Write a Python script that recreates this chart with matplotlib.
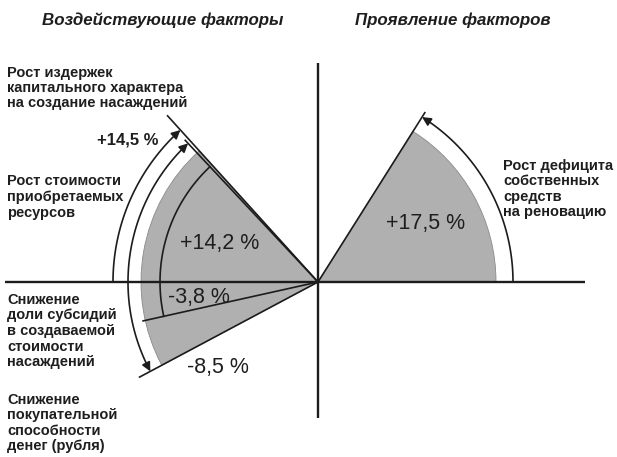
import numpy as np
import matplotlib
matplotlib.use('Agg')
import matplotlib.pyplot as plt
from matplotlib.patches import Wedge, FancyArrowPatch
from matplotlib.path import Path

plt.rcParams['font.family'] = ['Liberation Sans', 'DejaVu Sans']

# ---------------- data ----------------
titles = ['Воздействующие факторы', 'Проявление факторов']
factor_labels = [
    'Рост издержек\nкапитального характера\nна создание насаждений',
    'Рост стоимости\nприобретаемых\nресурсов',
    'Снижение\nдоли субсидий\nв создаваемой\nстоимости\nнасаждений',
    'Снижение\nпокупательной\nспособности\nденег (рубля)',
]
factor_values = [14.5, 14.2, -3.8, -8.5]
factor_texts = ['+14,5 %', '+14,2 %', '-3,8 %', '-8,5 %']
result_label = 'Рост дефицита\nсобственных\nсредств\nна реновацию'
result_value = 17.5
result_text = '+17,5 %'

DEG_PER_PCT = 3.3          # angular scale of the diagram
INK = '#1c1c1c'
GRAY = '#b0b0b0'


def left_ang(v):
    return 180.0 - v * DEG_PER_PCT


def right_ang(v):
    return v * DEG_PER_PCT


def P(px, py):
    """pixel position -> data coords (origin at axes crossing)"""
    return px - 318, 282 - py


fig = plt.figure(figsize=(6.17, 4.57), dpi=100)
ax = fig.add_axes([0, 0, 1, 1])
ax.set_xlim(-318, 299)
ax.set_ylim(-175, 282)
ax.set_aspect('equal')
ax.axis('off')

# gray sectors
a_top = left_ang(factor_values[0])
a_bot = left_ang(factor_values[3])
ax.add_patch(Wedge((0, 0), 177, a_top, a_bot, facecolor=GRAY,
                   edgecolor='#8a8a8a', lw=0.6, zorder=1))
ax.add_patch(Wedge((0, 0), 178, 0, right_ang(result_value), facecolor=GRAY,
                   edgecolor='#8a8a8a', lw=0.6, zorder=1))

# axes
ax.plot([-313, 267], [0, 0], color=INK, lw=1.7, zorder=3, solid_capstyle='butt')
ax.plot([0, 0], [-136, 219], color=INK, lw=1.7, zorder=3, solid_capstyle='butt')


def ray(angle, r):
    t = np.deg2rad(angle)
    ax.plot([0, r * np.cos(t)], [0, r * np.sin(t)], color=INK, lw=1.2,
            zorder=3, solid_capstyle='butt')


def arc_pts(r, a1, a2, n=80):
    t = np.deg2rad(np.linspace(a1, a2, n))
    return np.column_stack([r * np.cos(t), r * np.sin(t)])


ray_len = [225, 195, 180, 203]
for v, L in zip(factor_values, ray_len):
    ray(left_ang(v), L)
ray(right_ang(result_value), 201)

# inner arc (+14,2 % sector)
pts = arc_pts(158, left_ang(factor_values[1]), left_ang(factor_values[2]))
ax.plot(pts[:, 0], pts[:, 1], color=INK, lw=1.2, zorder=3)


def arrow(r, a1, a2, style):
    pts = arc_pts(r, a1, a2)
    p = FancyArrowPatch(path=Path(pts), arrowstyle=style, mutation_scale=13,
                        color=INK, lw=1.2, zorder=4,
                        shrinkA=0, shrinkB=0)
    ax.add_patch(p)


arrow(205, 180, left_ang(factor_values[0]), '-|>')
arrow(190, left_ang(factor_values[3]), left_ang(factor_values[1]), '<|-|>')
arrow(195, 0, right_ang(result_value), '-|>')

# titles
tkw = dict(fontsize=12.2, fontweight='bold', fontstyle='italic', color='#1e1e1e',
           ha='center', va='center')
ax.text(*P(163, 20), titles[0], **tkw)
ax.text(*P(453, 20), titles[1], **tkw)

# factor labels
lkw = dict(fontsize=10.5, fontweight='bold', color='#1e1e1e', ha='left',
           va='center', multialignment='left')
ax.text(*P(7, 88), factor_labels[0], linespacing=1.05, **lkw)
ax.text(*P(7, 197), factor_labels[1], linespacing=1.15, **lkw)
ax.text(*P(7, 331), factor_labels[2], linespacing=1.15, **lkw)
ax.text(*P(7, 423), factor_labels[3], linespacing=1.15, **lkw)
ax.text(*P(503, 189), result_label, linespacing=1.15, **lkw)

# value labels
ax.text(*P(128, 140), factor_texts[0], fontsize=12, fontweight='bold',
        color='#1e1e1e', ha='center', va='center', zorder=5)
vkw = dict(fontsize=15.5, color='#1e1e1e', ha='center', va='center', zorder=5)
ax.text(*P(220, 243), factor_texts[1], **vkw)
ax.text(*P(199, 298), factor_texts[2], **vkw)
ax.text(*P(218, 368), factor_texts[3], **vkw)
ax.text(*P(426, 223), result_text, **vkw)

fig.savefig('out.png', dpi=100, facecolor='white')
